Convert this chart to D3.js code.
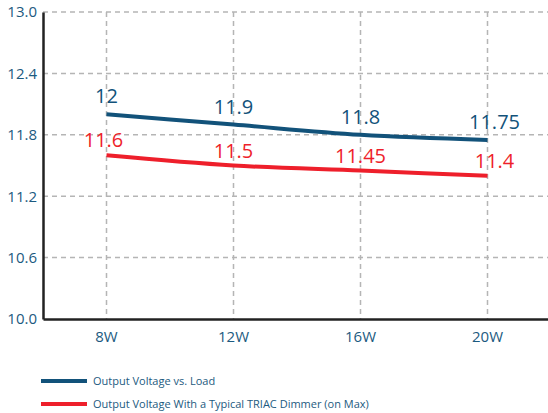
<!DOCTYPE html>
<html>
<head>
<meta charset="utf-8">
<script src="https://cdn.jsdelivr.net/npm/d3@7"></script>
<style>
  body { margin: 0; background: #fff; }
  text { font-family: "Open Sans", "Noto Sans", sans-serif; }
</style>
</head>
<body>
<script>
const loads = ["8W", "12W", "16W", "20W"];
const plainVolts = [12, 11.9, 11.8, 11.75];
const dimmerVolts = [11.6, 11.5, 11.45, 11.4];
const plainLabels = ["12", "11.9", "11.8", "11.75"];
const dimmerLabels = ["11.6", "11.5", "11.45", "11.4"];
const yTicks = [10.0, 10.6, 11.2, 11.8, 12.4, 13.0];
const legendNames = ["Output Voltage vs. Load", "Output Voltage With a Typical TRIAC Dimmer (on Max)"];

const blue = "#12527a", red = "#ee1f2b", tickColor = "#1c5a80";

const svg = d3.select("body").append("svg")
  .attr("width", 548)
  .attr("height", 413);

const x = d3.scaleBand().domain(loads).range([43, 551]);
const y = d3.scaleLinear().domain([10, 13]).range([319, 12]);
const cx = d => x(d) + x.bandwidth() / 2;

// grid
svg.append("g").selectAll("line").data(yTicks.slice(1)).join("line")
  .attr("x1", 43).attr("x2", 548)
  .attr("y1", d => y(d)).attr("y2", d => y(d))
  .attr("stroke", "#b5b5b5").attr("stroke-width", 1.5)
  .attr("stroke-dasharray", "5,4");
svg.append("g").selectAll("line").data(loads).join("line")
  .attr("x1", cx).attr("x2", cx)
  .attr("y1", y(13)).attr("y2", 319)
  .attr("stroke", "#b5b5b5").attr("stroke-width", 1.5)
  .attr("stroke-dasharray", "5,4");

// axes
const yAxis = svg.append("g").attr("transform", "translate(43,0)")
  .call(d3.axisLeft(y).tickValues(yTicks).tickFormat(d3.format(".1f")).tickSize(0).tickPadding(6));
yAxis.select(".domain").attr("stroke", "#222").attr("stroke-width", 2.5);
yAxis.selectAll("text").attr("fill", tickColor).style("font-size", "15px");

const xAxis = svg.append("g").attr("transform", "translate(0,319)")
  .call(d3.axisBottom(x).tickSize(0).tickPadding(12));
xAxis.select(".domain").attr("stroke", "#222").attr("stroke-width", 2.5);
xAxis.selectAll("text").attr("fill", tickColor).style("font-size", "15px");

// lines
const line = d3.line().x((d, i) => cx(loads[i])).y(d => y(d)).curve(d3.curveMonotoneX);
svg.append("path").attr("d", line(plainVolts))
  .attr("fill", "none").attr("stroke", blue).attr("stroke-width", 4);
svg.append("path").attr("d", line(dimmerVolts))
  .attr("fill", "none").attr("stroke", red).attr("stroke-width", 4);

// value labels
svg.append("g").selectAll("text").data(plainVolts).join("text")
  .attr("x", (d, i) => cx(loads[i]) + (i === 3 ? 7 : 0))
  .attr("y", d => y(d) - 11)
  .attr("text-anchor", "middle")
  .attr("fill", blue).style("font-size", "20px")
  .text((d, i) => plainLabels[i]);
svg.append("g").selectAll("text").data(dimmerVolts).join("text")
  .attr("x", (d, i) => cx(loads[i]) + (i === 3 ? 7 : 0) - (i === 0 ? 3 : 0))
  .attr("y", d => y(d) - 8)
  .attr("text-anchor", "middle")
  .attr("fill", red).style("font-size", "20px")
  .text((d, i) => dimmerLabels[i]);

// legend
const legend = svg.append("g").selectAll("g").data(legendNames).join("g")
  .attr("transform", (d, i) => `translate(41,${381 + i * 23})`);
legend.append("line").attr("x1", 0).attr("x2", 46)
  .attr("stroke", (d, i) => i ? red : blue).attr("stroke-width", 4);
legend.append("text").attr("x", 52).attr("y", 4)
  .attr("fill", tickColor).style("font-size", "11px")
  .text(d => d);
</script>
</body>
</html>
